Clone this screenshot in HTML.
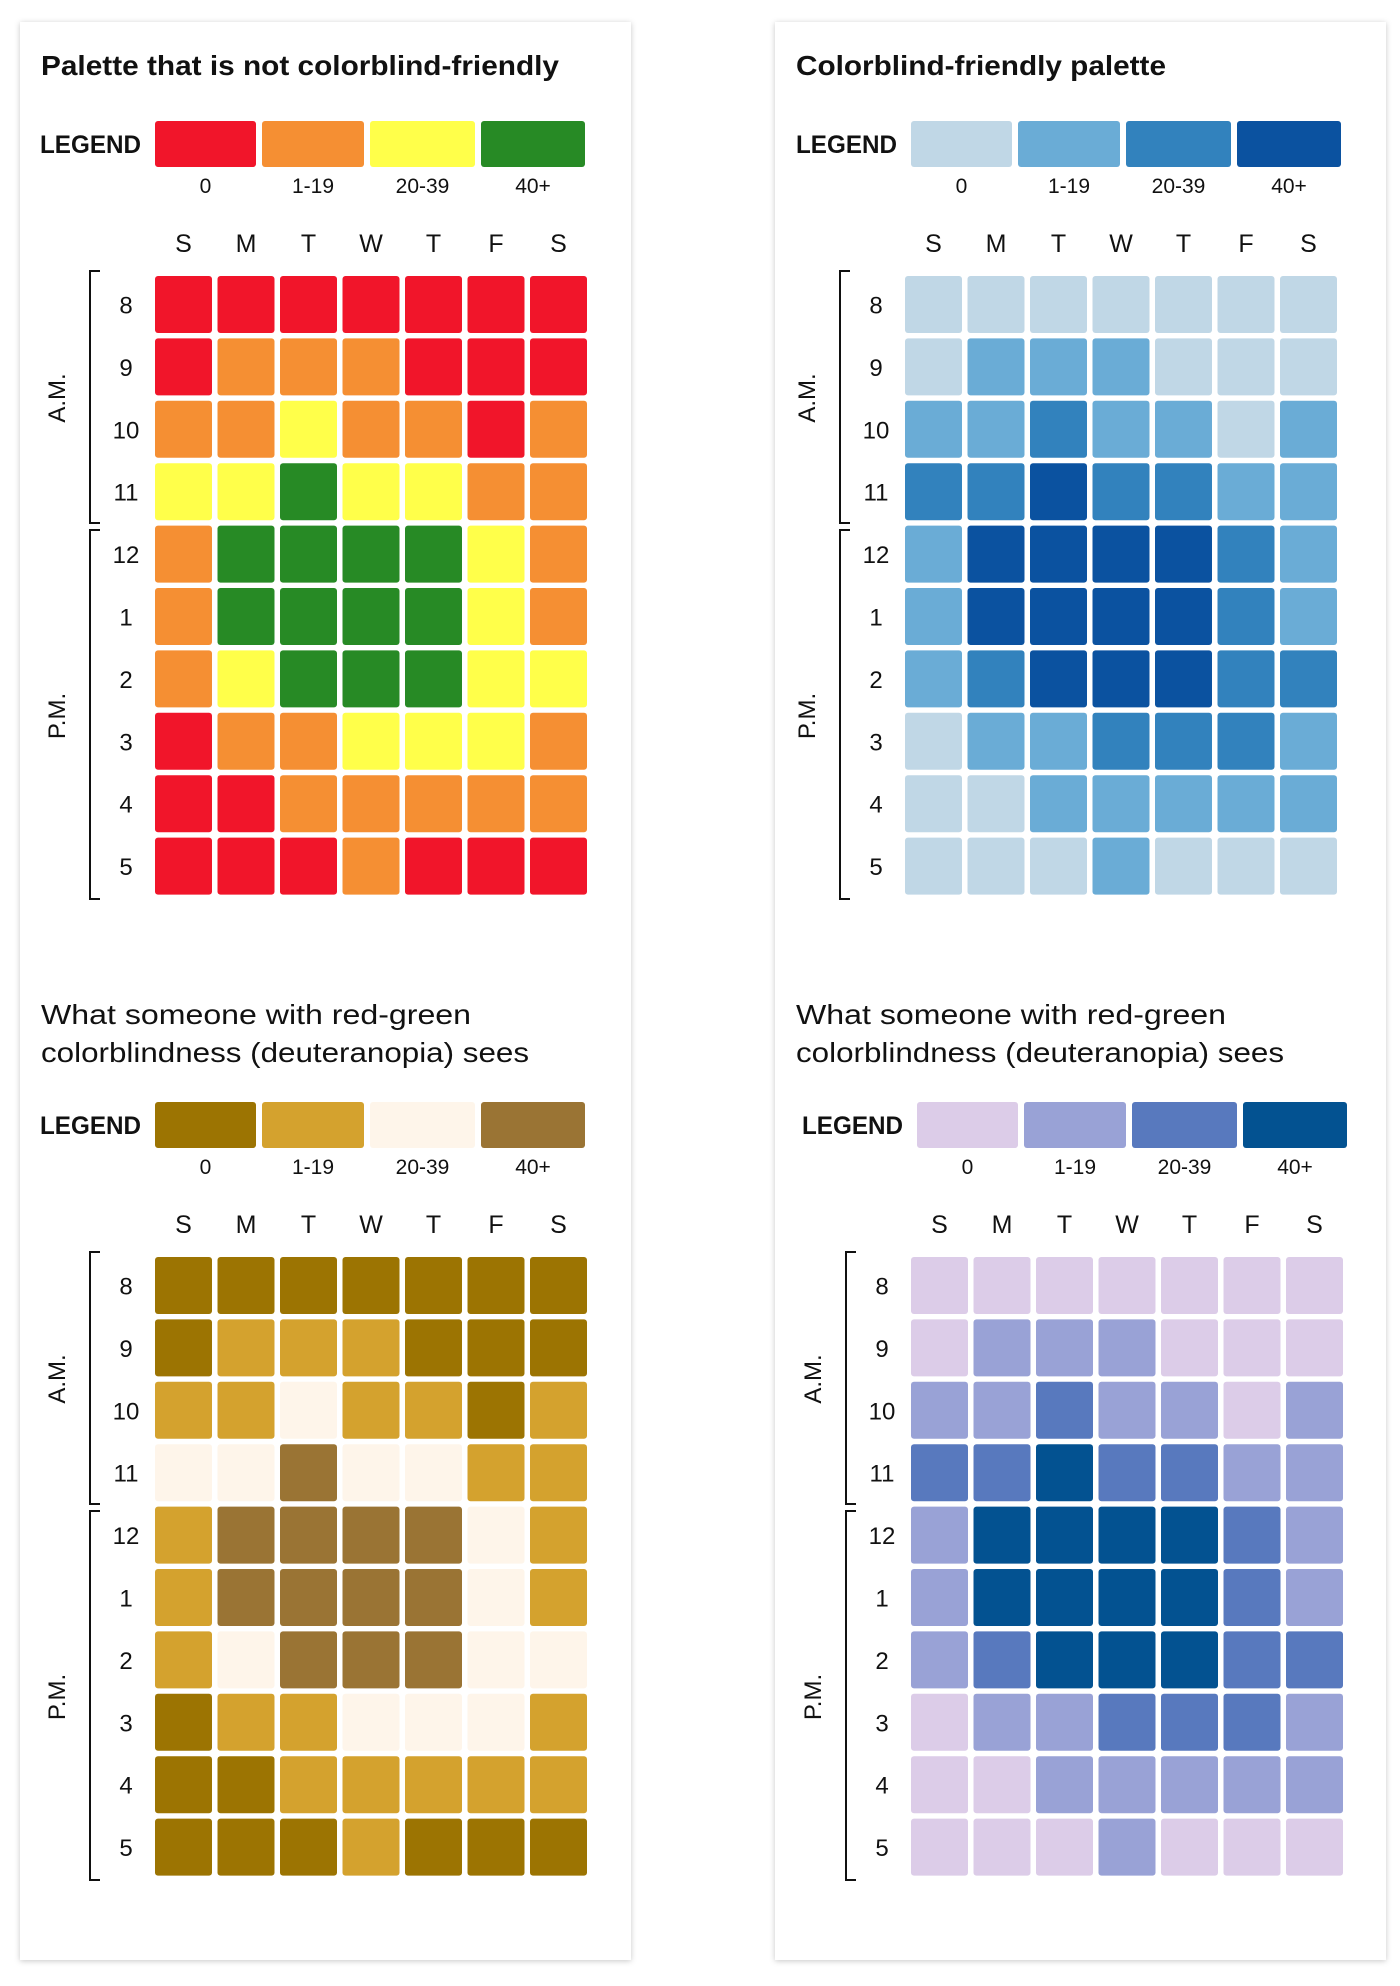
<!DOCTYPE html>
<html><head><meta charset="utf-8">
<style>
html,body{margin:0;padding:0;background:#fff;}
svg{display:block;}
text{font-family:"Liberation Sans",sans-serif;fill:#111;}
</style></head>
<body>
<svg id="chart" width="1400" height="1986" viewBox="0 0 1400 1986" xmlns="http://www.w3.org/2000/svg">
<defs>
<filter id="sh" x="-5%" y="-5%" width="110%" height="110%"><feDropShadow dx="0" dy="1" stdDeviation="3" flood-color="#000" flood-opacity="0.22"/></filter>
</defs>
</svg>
<script>
// ---- data ----
const days = ["S","M","T","W","T","F","S"];
const hours = ["8","9","10","11","12","1","2","3","4","5"];
const legendLabels = ["0","1-19","20-39","40+"];
// level per hour row (0: 0, 1: 1-19, 2: 20-39, 3: 40+)
const row8  = [0,0,0,0,0,0,0];
const row9  = [0,1,1,1,0,0,0];
const row10 = [1,1,2,1,1,0,1];
const row11 = [2,2,3,2,2,1,1];
const row12 = [1,3,3,3,3,2,1];
const row1  = [1,3,3,3,3,2,1];
const row2  = [1,2,3,3,3,2,2];
const row3  = [0,1,1,2,2,2,1];
const row4  = [0,0,1,1,1,1,1];
const row5  = [0,0,0,1,0,0,0];
const grid = [row8,row9,row10,row11,row12,row1,row2,row3,row4,row5];
const redGreen = ["#F1152A","#F58F33","#FFFF4A","#278A25"];
const blues = ["#C0D7E6","#6AACD6","#3282BD","#0B52A0"];
const deutRG = ["#9C7402","#D4A22E","#FEF5EA","#9A7434"];
const deutBlue = ["#DCCCE8","#99A2D6","#5879BE","#035291"];

const NS = "http://www.w3.org/2000/svg";
const svg = document.getElementById("chart");
function mk(tag, attrs, parent, txt){
  const e = document.createElementNS(NS, tag);
  for (const k in attrs) e.setAttribute(k, attrs[k]);
  if (txt !== undefined) e.textContent = txt;
  parent.appendChild(e);
  return e;
}
const pitchX = 62.5, pitchY = 62.4, cellW = 57, cellH = 57;
function xCell(i, x0){ return x0 + i*pitchX; }
function yCell(j, y0){ return y0 + j*pitchY; }

function panel(cfg){
  const g = mk("g", {}, svg);
  
  
  if (cfg.ph > 0) {
    const bg = mk("rect", {x:cfg.px, y:cfg.py, width:611, height:cfg.ph, fill:"#fff", filter:"url(#sh)"}, g);
    
    
  }
  cfg.title.forEach((t, i) => {
    const tt = mk("text", {x:cfg.px+21, y:cfg.ty + i*38, "font-size":28, "font-weight":cfg.bold?"bold":"normal", textLength:t[1], lengthAdjust:"spacingAndGlyphs"}, g, t[0]);
    
    
  });
  const lg = mk("text", {x:cfg.lx-115, y:cfg.ly+32, "font-size":25, "font-weight":"bold", textLength:101, lengthAdjust:"spacingAndGlyphs"}, g, "LEGEND");
  
  
  const lw = [101, 102, 105, 104], lxOff = [0, 107, 215, 326];
  legendLabels.forEach((lab, k) => {
    const r = mk("rect", {x:cfg.lx+lxOff[k], y:cfg.ly, width:lw[k], height:46, rx:3, fill:cfg.colors[k]}, g);
    
    
    const lt = mk("text", {x:cfg.lx+lxOff[k]+lw[k]/2, y:cfg.ly+72, "font-size":21, "text-anchor":"middle"}, g, lab);
    
    
  });
  days.forEach((d, i) => {
    const t = mk("text", {x:xCell(i, cfg.cx)+cellW/2, y:cfg.cy-24, "font-size":25, "text-anchor":"middle"}, g, d);
    
    
  });
  hours.forEach((h, j) => {
    const t = mk("text", {x:cfg.cx-29, y:yCell(j, cfg.cy)+cellH/2+9, "font-size":24, "text-anchor":"middle"}, g, h);
    
    
    grid[j].forEach((v, i) => {
      const c = mk("rect", {x:xCell(i, cfg.cx), y:yCell(j, cfg.cy), width:cellW, height:cellH, rx:3, fill:cfg.colors[v]}, g);
      
      
    });
  });
  const bx = cfg.cx - 65;
  const b1 = mk("path", {d:`M${bx+10} ${cfg.cy-5} H${bx} V${cfg.cy+247} H${bx+10}`, stroke:"#111", "stroke-width":2, fill:"none"}, g);
  
  
  const b2 = mk("path", {d:`M${bx+10} ${cfg.cy+254} H${bx} V${cfg.cy+623} H${bx+10}`, stroke:"#111", "stroke-width":2, fill:"none"}, g);
  
  
  const amY = cfg.cy + 122, pmY = cfg.cy + 440, tx = cfg.cx - 90;
  const am = mk("text", {x:tx, y:amY, "font-size":24, "text-anchor":"middle", transform:`rotate(-90 ${tx} ${amY})`}, g, "A.M.");
  
  
  const pm = mk("text", {x:tx, y:pmY, "font-size":24, "text-anchor":"middle", transform:`rotate(-90 ${tx} ${pmY})`}, g, "P.M.");
  
  
}

panel({name:"panel-not-colorblind-friendly", px:20, py:22, ph:1938, bold:true, ty:75,
  title:[["Palette that is not colorblind-friendly",518]], lx:155, ly:121, cx:155, cy:276, colors:redGreen});
panel({name:"panel-colorblind-friendly", px:775, py:22, ph:1938, bold:true, ty:75,
  title:[["Colorblind-friendly palette",370]], lx:911, ly:121, cx:905, cy:276, colors:blues});
panel({name:"panel-deuteranopia-red-green", px:20, py:980, ph:0, bold:false, ty:1024,
  title:[["What someone with  red-green",430],["colorblindness (deuteranopia) sees",488]], lx:155, ly:1102, cx:155, cy:1257, colors:deutRG});
panel({name:"panel-deuteranopia-blue", px:775, py:980, ph:0, bold:false, ty:1024,
  title:[["What someone with  red-green",430],["colorblindness (deuteranopia) sees",488]], lx:917, ly:1102, cx:911, cy:1257, colors:deutBlue});
</script>
</body></html>
